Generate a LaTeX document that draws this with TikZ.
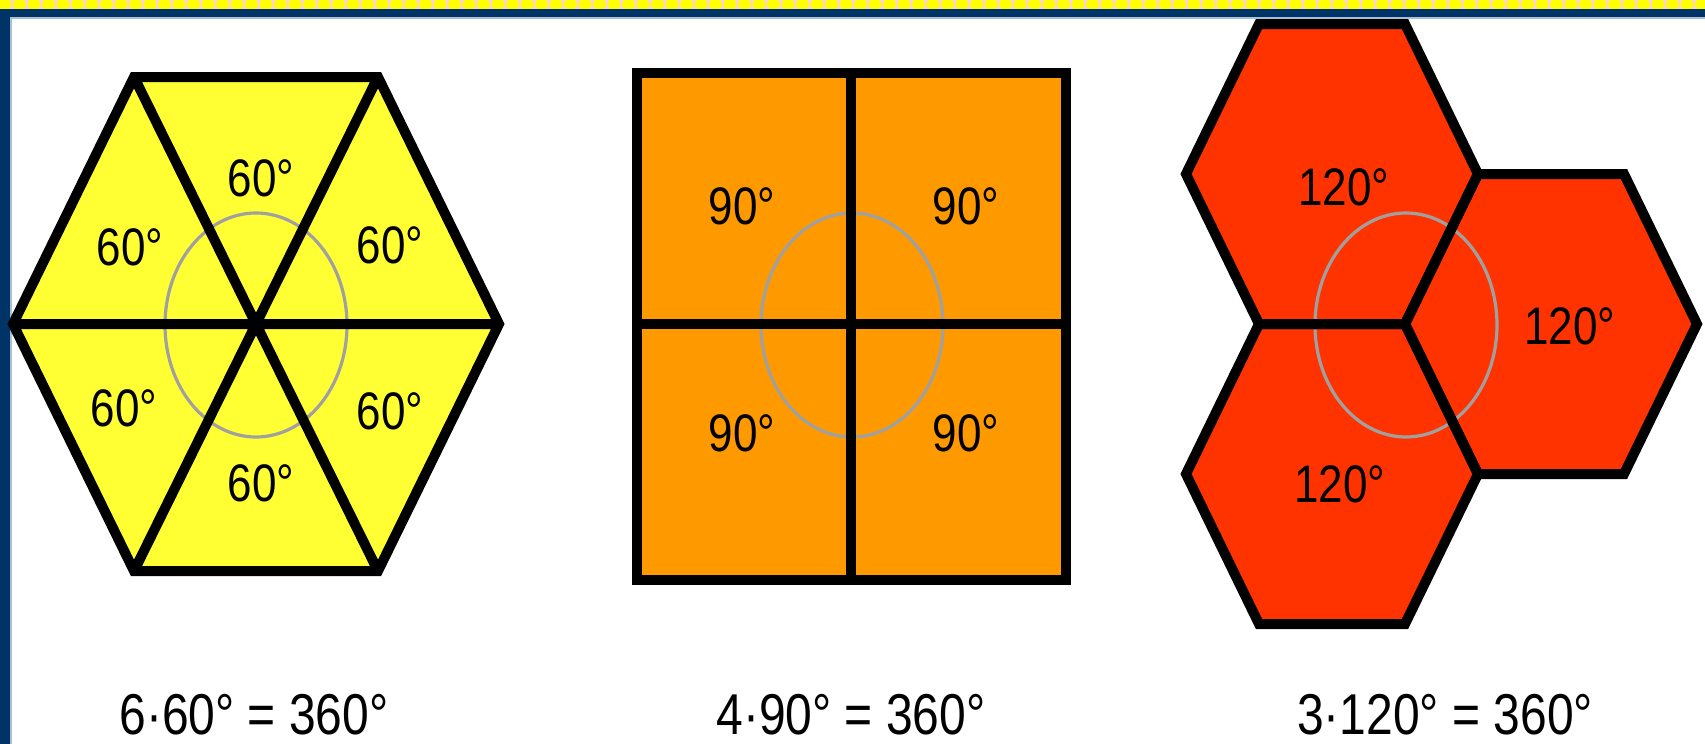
\documentclass[tikz,border=0pt]{standalone}
\usepackage{fontspec}
\setmainfont{Liberation Sans}
\usepackage{graphicx}
\usetikzlibrary{positioning}
\definecolor{tileyellow}{HTML}{FFFF33}
\definecolor{tileorange}{HTML}{FF9900}
\definecolor{tilered}{HTML}{FF3300}
\definecolor{framenavy}{HTML}{003366}
\definecolor{stripepink}{HTML}{FFCCF0}
\definecolor{stripeyellow}{HTML}{FFFF00}
\definecolor{guidegray}{HTML}{A0A0A0}
\definecolor{frameline}{HTML}{A9BFD6}
\tikzset{
    tile/.style={draw=black,line width=5pt,line join=miter},
    guide/.style={draw=guidegray,line width=1.6pt},
    anglabel/.style={font=\fontsize{22}{26}\selectfont,inner sep=0pt},
    sumlabel/.style={font=\fontsize{24}{28}\selectfont,inner sep=0pt}
}
\newcommand{\tall}[1]{\scalebox{1}[1.2]{#1}}
\begin{document}
\begin{tikzpicture}[x=0.5pt,y=-0.5pt]
\useasboundingbox (0,0) rectangle (1705,744);
% frame
\fill[stripepink] (0,0) rectangle (1705,9);
\begin{scope}
\clip (0,0) rectangle (1705,9);
\foreach \i in {0,...,118}
    \fill[stripeyellow] (5+14.5*\i,4.5) circle[radius=6.5];
\end{scope}
\fill[framenavy] (0,9) rectangle (1705,17);
\fill[framenavy] (0,9) rectangle (10,744);
\draw[frameline,line width=0.8pt] (10.8,744) -- (10.8,17.8) -- (1705,17.8);
% six triangles
\fill[tileyellow] (13,324) -- (134,77) -- (378,77) -- (499,324) -- (378,571) -- (134,571) -- cycle;
\draw[guide] (256,325) ellipse[x radius=91,y radius=112];
\draw[tile] (13,324) -- (134,77) -- (378,77) -- (499,324) -- (378,571) -- (134,571) -- cycle
    (13,324) -- (499,324) (134,77) -- (378,571) (378,77) -- (134,571);
\node[anglabel] (yt) at (261,178) {\tall{60°}};
\node[anglabel] (yul) at (130,247) {\tall{60°}};
\node[anglabel] (yur) at (390,245) {\tall{60°}};
\node[anglabel] (yll) at (124,408) {\tall{60°}};
\node[anglabel] (ylr) at (390,411) {\tall{60°}};
\node[anglabel] (yb) at (261,483) {\tall{60°}};
% four squares
\fill[tileorange] (637,73) rectangle (1066,580);
\draw[guide] (852,325) ellipse[x radius=91,y radius=112];
\draw[tile] (637,73) rectangle (1066,580) (851,73) -- (851,580) (637,324) -- (1066,324);
\node[anglabel] (oul) at (742,206) {\tall{90°}};
\node[anglabel] (our) at (966,206) {\tall{90°}};
\node[anglabel] (oll) at (742,433) {\tall{90°}};
\node[anglabel] (olr) at (966,433) {\tall{90°}};
% three hexagons
\foreach \cx/\cy in {1332/174,1551/324,1332/474}
    \fill[tilered] (\cx-146,\cy) -- (\cx-73,\cy-150) -- (\cx+73,\cy-150) -- (\cx+146,\cy) -- (\cx+73,\cy+150) -- (\cx-73,\cy+150) -- cycle;
\draw[guide] (1406,325) ellipse[x radius=91,y radius=112];
\foreach \cx/\cy in {1332/174,1551/324,1332/474}
    \draw[tile] (\cx-146,\cy) -- (\cx-73,\cy-150) -- (\cx+73,\cy-150) -- (\cx+146,\cy) -- (\cx+73,\cy+150) -- (\cx-73,\cy+150) -- cycle;
\node[anglabel] (rt) at (1344,187) {\tall{120°}};
\node[anglabel] (rr) at (1570,326) {\tall{120°}};
\node[anglabel] (rb) at (1340,484) {\tall{120°}};
% sums
\node[sumlabel] (ysum) at (254,715) {\tall{6·60° = 360°}};
\node[sumlabel] (osum) at (851,715) {\tall{4·90° = 360°}};
\node[sumlabel] (rsum) at (1445,715) {\tall{3·120° = 360°}};
\end{tikzpicture}
\end{document}
